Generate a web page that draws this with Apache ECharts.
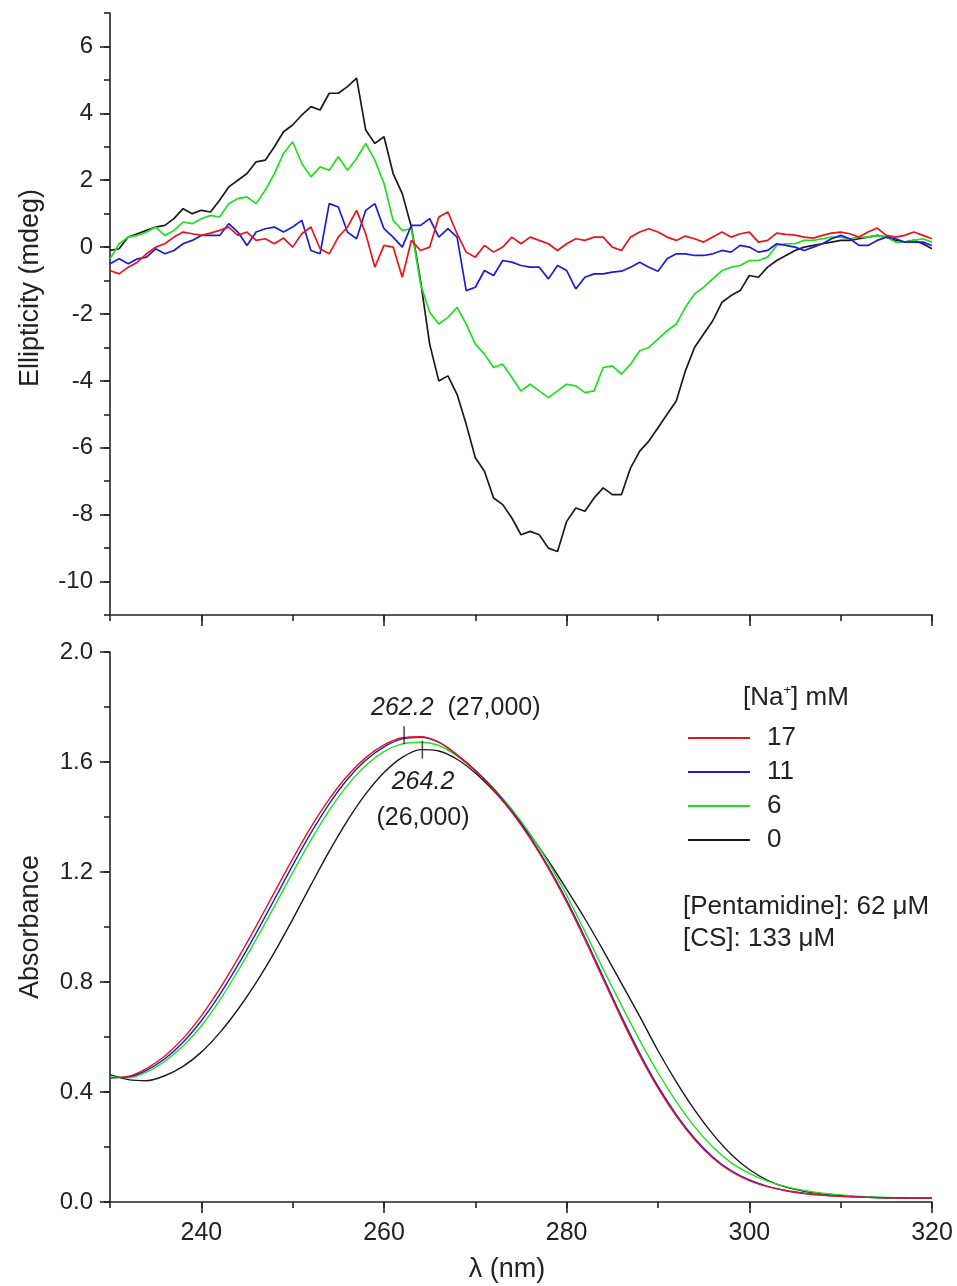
<!DOCTYPE html>
<html><head><meta charset="utf-8">
<script src="https://cdn.jsdelivr.net/npm/echarts@6/dist/echarts.min.js"></script>
<style>html,body{margin:0;padding:0;background:#fff}#c{width:957px;height:1286px}</style>
</head><body><div id="c"></div>
<script>
// ---------- CD (top panel) ----------
const cdLambda = [230,231,232,233,234,235,236,237,238,239,240,241,242,243,244,245,246,247,248,249,
  250,251,252,253,254,255,256,257,258,259,260,261,262,263,264,265,266,267,268,269,
  270,271,272,273,274,275,276,277,278,279,280,281,282,283,284,285,286,287,288,289,
  290,291,292,293,294,295,296,297,298,299,300,301,302,303,304,305,306,307,308,309,
  310,311,312,313,314,315,316,317,318,319,320];
const cd0 = [-0.1,-0.05,0.3,0.4,0.5,0.6,0.65,0.85,1.15,1.0,1.1,1.05,1.4,1.8,2.0,2.2,2.55,2.6,3.0,3.45,
  3.65,3.95,4.2,4.1,4.6,4.6,4.8,5.05,3.5,3.1,3.3,2.2,1.6,0.6,-1.0,-2.9,-4.0,-3.85,-4.4,-5.3,
  -6.3,-6.7,-7.5,-7.7,-8.1,-8.6,-8.5,-8.6,-9.0,-9.1,-8.2,-7.8,-7.9,-7.5,-7.2,-7.4,-7.4,-6.6,-6.1,-5.8,
  -5.4,-5.0,-4.6,-3.7,-3.0,-2.6,-2.2,-1.65,-1.45,-1.3,-0.85,-0.9,-0.6,-0.4,-0.25,-0.1,0.0,0.05,0.1,0.15,
  0.2,0.2,0.25,0.3,0.35,0.3,0.2,0.15,0.2,0.1,-0.05];
const cd6 = [-0.35,0.1,0.3,0.35,0.45,0.6,0.35,0.5,0.75,0.7,0.85,0.95,0.9,1.3,1.45,1.5,1.3,1.7,2.2,2.8,
  3.15,2.5,2.1,2.4,2.3,2.7,2.3,2.65,3.1,2.6,1.9,0.8,0.5,0.55,-1.1,-1.95,-2.3,-2.1,-1.8,-2.3,
  -2.9,-3.2,-3.6,-3.5,-3.9,-4.3,-4.1,-4.3,-4.5,-4.3,-4.1,-4.15,-4.35,-4.3,-3.6,-3.55,-3.8,-3.5,-3.1,-3.0,
  -2.75,-2.5,-2.3,-1.8,-1.4,-1.2,-0.95,-0.7,-0.6,-0.55,-0.4,-0.4,-0.3,0.05,0.1,0.1,0.2,0.2,0.25,0.3,
  0.3,0.25,0.3,0.3,0.35,0.3,0.15,0.15,0.2,0.25,0.15];
const cd11 = [-0.5,-0.35,-0.5,-0.35,-0.3,-0.05,-0.2,-0.1,0.1,0.2,0.35,0.35,0.35,0.7,0.45,0.05,0.45,0.55,0.6,0.45,
  0.6,0.8,-0.1,-0.2,1.3,1.2,0.45,0.25,1.1,1.3,0.55,0.3,0.0,0.65,0.65,0.85,0.3,0.55,0.3,-1.3,
  -1.2,-0.7,-0.85,-0.4,-0.45,-0.55,-0.6,-0.6,-0.95,-0.55,-0.7,-1.25,-0.9,-0.8,-0.8,-0.75,-0.72,-0.6,-0.45,-0.6,
  -0.72,-0.35,-0.2,-0.2,-0.25,-0.25,-0.2,-0.1,-0.15,0.05,0.0,-0.15,-0.1,0.1,0.05,0.0,-0.1,0.0,0.1,0.25,
  0.35,0.25,0.05,0.05,0.2,0.3,0.25,0.15,0.15,0.15,0.05];
const cd17 = [-0.7,-0.8,-0.6,-0.45,-0.2,0.0,0.1,0.3,0.45,0.4,0.35,0.42,0.5,0.6,0.35,0.45,0.2,0.25,0.1,0.27,
  0.0,0.4,0.6,-0.05,-0.2,0.3,0.6,1.1,0.4,-0.6,0.05,0.0,-0.9,0.2,-0.1,0.0,0.9,1.05,0.4,-0.15,
  -0.3,0.05,-0.15,0.0,0.3,0.1,0.3,0.2,0.1,-0.1,0.1,0.25,0.2,0.3,0.3,0.0,-0.1,0.3,0.45,0.55,
  0.45,0.3,0.2,0.33,0.25,0.15,0.3,0.45,0.3,0.4,0.45,0.15,0.2,0.42,0.38,0.36,0.3,0.27,0.35,0.42,
  0.45,0.4,0.3,0.45,0.57,0.35,0.3,0.35,0.45,0.35,0.25];

// ---------- Absorbance (bottom panel) ----------
const absLambda = [230,232,234,236,238,240,242,244,246,248,250,252,254,256,258,260,262,264,266,268,
  270,272,274,276,278,280,282,284,286,288,290,292,294,296,298,300,302,304,306,308,310,312,314,316,318,320];
const abs17 = [0.452,0.457,0.485,0.531,0.595,0.677,0.775,0.885,1.003,1.126,1.248,1.363,1.465,1.55,1.616,1.662,1.688,1.692,1.672,1.625,
  1.568,1.498,1.417,1.322,1.213,1.09,0.954,0.81,0.667,0.533,0.414,0.312,0.227,0.16,0.111,0.078,0.056,0.041,0.031,0.0245,
  0.0205,0.018,0.016,0.015,0.014,0.014];
const abs11 = [0.452,0.455,0.479,0.521,0.581,0.659,0.753,0.861,0.978,1.10,1.224,1.342,1.448,1.537,1.606,1.655,1.684,1.690,1.672,1.626,
  1.57,1.502,1.421,1.327,1.219,1.097,0.962,0.818,0.675,0.541,0.421,0.318,0.232,0.164,0.114,0.08,0.057,0.042,0.032,0.025,
  0.021,0.018,0.016,0.015,0.014,0.014];
const abs6 = [0.455,0.452,0.472,0.512,0.567,0.64,0.733,0.84,0.955,1.075,1.198,1.316,1.424,1.515,1.587,1.638,1.666,1.672,1.66,1.622,
  1.568,1.505,1.428,1.338,1.234,1.115,0.983,0.847,0.715,0.588,0.47,0.365,0.274,0.2,0.143,0.104,0.076,0.056,0.042,0.032,
  0.026,0.021,0.018,0.016,0.015,0.014];
const abs0 = [0.463,0.445,0.441,0.459,0.493,0.545,0.615,0.70,0.798,0.908,1.028,1.153,1.275,1.387,1.484,1.562,1.617,1.645,1.64,1.61,
  1.56,1.495,1.42,1.335,1.24,1.137,1.03,0.915,0.795,0.675,0.55,0.437,0.335,0.247,0.174,0.118,0.079,0.054,0.039,0.03,
  0.024,0.019,0.016,0.015,0.014,0.014];

// peak markers [lambda, absorbance]
const peakMarks = [[262.2, 1.697], [264.2, 1.645]];

// ticks
const xMajorTicks = [240, 260, 280, 300, 320];
const cdMajorTicks = [-10, -8, -6, -4, -2, 0, 2, 4, 6];
const absMajorTicks = [0, 0.4, 0.8, 1.2, 1.6, 2.0];
const seriesNames = ['17', '11', '6', '0'];
const seriesColors = {'17': '#e8141c', '11': '#1c1cd8', '6': '#1ee01e', '0': '#1a1a1a'};

const FONT = 'Liberation Sans, Arial, sans-serif';
const AX = '#222';

function zip(xs, ys) { return xs.map((x, i) => [x, ys[i]]); }

const cdData = {'17': cd17, '11': cd11, '6': cd6, '0': cd0};
const absData = {'17': abs17, '11': abs11, '6': abs6, '0': abs0};
const drawOrder = ['0', '6', '11', '17'];

const series = [];
drawOrder.forEach(n => {
  series.push({
    name: n, type: 'line', xAxisIndex: 0, yAxisIndex: 0, symbol: 'none',
    data: zip(cdLambda, cdData[n]), lineStyle: {color: seriesColors[n], width: 1.7},
    itemStyle: {color: seriesColors[n]}, animation: false
  });
});
drawOrder.forEach(n => {
  series.push({
    name: n, type: 'line', xAxisIndex: 2, yAxisIndex: 2, symbol: 'none', smooth: 0.3,
    data: zip(absLambda, absData[n]), lineStyle: {color: seriesColors[n], width: 1.4},
    itemStyle: {color: seriesColors[n]}, animation: false
  });
});
series.push({
  type: 'scatter', xAxisIndex: 2, yAxisIndex: 2, data: peakMarks,
  symbol: 'rect', symbolSize: [1.6, 18], itemStyle: {color: AX}, silent: true, z: 5
});

function mainX(gridIndex, showLabels, extra) {
  return Object.assign({
    type: 'value', gridIndex, min: 230, max: 320, position: 'bottom',
    axisLine: {show: true, onZero: false, lineStyle: {color: AX, width: 1.6}},
    axisTick: {show: true, inside: false, length: 11, customValues: xMajorTicks, lineStyle: {color: AX, width: 1.6}},
    axisLabel: {show: showLabels, customValues: xMajorTicks, margin: 19, color: '#222', fontSize: 25, fontFamily: FONT},
    splitLine: {show: false}
  }, extra || {});
}
function minorX(gridIndex) {
  return {
    type: 'value', gridIndex, min: 230, max: 320, interval: 10, position: 'bottom',
    axisLine: {show: false, onZero: false},
    axisTick: {show: true, inside: false, length: 6, lineStyle: {color: AX, width: 1.6}},
    axisLabel: {show: false}, splitLine: {show: false}
  };
}

const option = {
  backgroundColor: '#fff',
  animation: false,
  grid: [
    {left: 110, width: 822, top: 13, height: 602, outerBoundsMode: 'none', containLabel: false},
    {left: 110, width: 822, top: 652, height: 550, outerBoundsMode: 'none', containLabel: false}
  ],
  xAxis: [
    mainX(0, false),
    minorX(0),
    mainX(1, true, {name: 'λ (nm)', nameLocation: 'middle', nameGap: 54,
      nameTextStyle: {fontSize: 27, fontFamily: FONT, color: '#222', padding: [0, 28, 0, 0]}}),
    minorX(1)
  ],
  yAxis: [
    {
      type: 'value', gridIndex: 0, min: -11, max: 7, position: 'left',
      name: 'Ellipticity (mdeg)', nameLocation: 'middle', nameGap: 66,
      nameTextStyle: {fontSize: 27, fontFamily: FONT, color: '#222', padding: [0, 0, 0, 52]},
      axisLine: {show: true, onZero: false, lineStyle: {color: AX, width: 1.6}},
      axisTick: {show: true, inside: false, length: 10, customValues: cdMajorTicks, lineStyle: {color: AX, width: 1.6}},
      axisLabel: {customValues: cdMajorTicks, margin: 17, color: '#222', fontSize: 24, fontFamily: FONT},
      splitLine: {show: false}
    },
    {
      type: 'value', gridIndex: 0, min: -11, max: 7, interval: 1, position: 'left',
      axisLine: {show: false, onZero: false},
      axisTick: {show: true, inside: false, length: 6, lineStyle: {color: AX, width: 1.6}},
      axisLabel: {show: false}, splitLine: {show: false}
    },
    {
      type: 'value', gridIndex: 1, min: 0, max: 2, position: 'left',
      name: 'Absorbance', nameLocation: 'middle', nameGap: 66,
      nameTextStyle: {fontSize: 27, fontFamily: FONT, color: '#222'},
      axisLine: {show: true, onZero: false, lineStyle: {color: AX, width: 1.6}},
      axisTick: {show: true, inside: false, length: 10, customValues: absMajorTicks, lineStyle: {color: AX, width: 1.6}},
      axisLabel: {customValues: absMajorTicks, margin: 17, color: '#222', fontSize: 24, fontFamily: FONT,
        formatter: v => Number(v).toFixed(1)},
      splitLine: {show: false}
    },
    {
      type: 'value', gridIndex: 1, min: 0, max: 2, interval: 0.2, position: 'left',
      axisLine: {show: false, onZero: false},
      axisTick: {show: true, inside: false, length: 6, lineStyle: {color: AX, width: 1.6}},
      axisLabel: {show: false}, splitLine: {show: false}
    }
  ],
  legend: {
    data: seriesNames, orient: 'vertical', left: 683, top: 719,
    icon: 'rect', itemWidth: 62, itemHeight: 2, itemGap: 6,
    textStyle: {fontSize: 26, fontFamily: FONT, color: '#222', lineHeight: 28, padding: [0, 0, 0, 12]},
    selectedMode: false
  },
  graphic: [
    {type: 'text', x: 743, y: 698, style: {
      text: '[Na{s|+}] mM', fontSize: 26, fontFamily: FONT, fill: '#222',
      textVerticalAlign: 'middle', lineHeight: 28,
      rich: {s: {fontSize: 13, fontFamily: FONT, verticalAlign: 'top', lineHeight: 14, fill: '#222'}}
    }},
    {type: 'text', x: 371, y: 708, style: {
      text: '{i|262.2}  (27,000)', fontSize: 25, fontFamily: FONT, fill: '#222', textVerticalAlign: 'middle',
      rich: {i: {fontSize: 25, fontFamily: FONT, fontStyle: 'italic', fill: '#222'}}
    }},
    {type: 'text', x: 423, y: 782, style: {
      text: '264.2', fontSize: 25, fontFamily: FONT, fontStyle: 'italic', fill: '#222',
      textAlign: 'center', textVerticalAlign: 'middle'
    }},
    {type: 'text', x: 423, y: 818, style: {
      text: '(26,000)', fontSize: 25, fontFamily: FONT, fill: '#222',
      textAlign: 'center', textVerticalAlign: 'middle'
    }},
    {type: 'text', x: 683, y: 907, style: {
      text: '[Pentamidine]: 62 μM', fontSize: 26, fontFamily: FONT, fill: '#222', textVerticalAlign: 'middle'
    }},
    {type: 'text', x: 683, y: 939, style: {
      text: '[CS]: 133 μM', fontSize: 26, fontFamily: FONT, fill: '#222', textVerticalAlign: 'middle'
    }}
  ],
  series
};

const chart = echarts.init(document.getElementById('c'), null, {renderer: 'canvas'});
chart.setOption(option);
</script>
</body></html>
